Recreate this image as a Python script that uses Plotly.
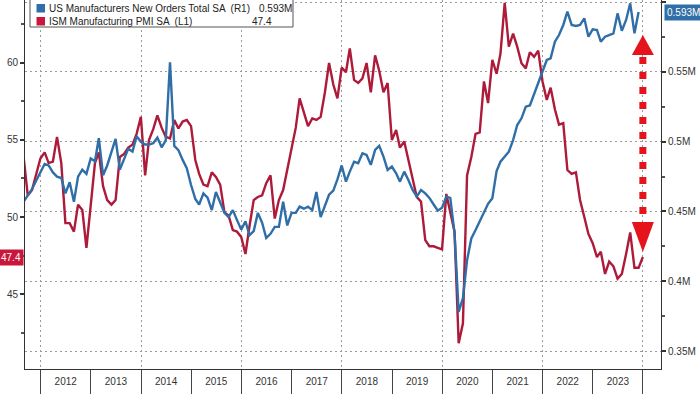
import pandas as pd
import plotly.graph_objects as go

# ---------------- data (monthly, month-end) ----------------
ism_start = "2011-08-31"
ism_pmi = [
    53.9, 51.4, 51.75, 52.8, 53.8,
    54.2, 53.5, 53.6, 55.2, 53.5, 49.6, 49.6, 49.05, 50.8, 50.45, 48.0, 50.6,
    53.5, 54.2, 52.0, 51.1, 50.8, 51.1, 53.9, 54.1, 54.5, 54.7, 55.4, 56.5,
    52.7, 55.0, 55.7, 56.6, 55.8, 55.2, 55.1, 56.3, 55.75, 56.2, 56.3, 55.9,
    53.7, 52.8, 52.1, 52.0, 52.9, 52.6, 52.1, 50.3, 50.1, 49.15, 49.05, 48.7,
    47.6, 49.4, 51.1, 51.3, 51.4, 52.2, 52.7, 49.9, 51.1, 51.75, 53.05, 54.35,
    55.8, 57.7, 56.7, 55.9, 56.4, 56.3, 56.5, 58.1, 60.0, 58.6, 57.7, 59.7,
    59.4, 60.95, 58.9, 58.7, 59.0, 60.0, 58.1, 60.5, 59.5, 58.1, 58.7, 55.0,
    55.65, 54.5, 54.9, 53.7, 52.6, 51.3, 51.0, 48.5, 48.1, 48.1, 48.0, 47.9,
    51.5, 50.3, 49.05, 41.8, 43.1, 52.7, 53.9, 55.4, 55.5, 58.8, 57.4, 60.2,
    59.3, 60.6, 63.9, 61.06, 61.9, 61.06, 59.98, 59.65, 60.7, 60.4, 60.8, 58.8,
    57.6, 58.4, 57.0, 56.0, 56.1, 53.05, 52.8, 52.9, 51.1, 50.0, 48.9, 48.3,
    47.4, 47.75, 46.3, 47.1, 46.8, 46.0, 46.3, 47.6, 49.0, 46.7, 46.7, 47.4,
]

orders_start = "2011-08-31"
new_orders_m = [
    0.457, 0.461, 0.466, 0.472, 0.478,
    0.484, 0.483, 0.478, 0.475, 0.474, 0.463, 0.471, 0.457, 0.475, 0.480, 0.477, 0.488,
    0.486, 0.5025, 0.476, 0.483, 0.493, 0.502, 0.480, 0.487, 0.495, 0.493, 0.504, 0.500,
    0.498, 0.498, 0.499, 0.503, 0.496, 0.501, 0.557, 0.497, 0.494, 0.487, 0.481, 0.469,
    0.459, 0.455, 0.463, 0.460, 0.451, 0.464, 0.457, 0.449, 0.446, 0.451, 0.444, 0.437,
    0.443, 0.433, 0.436, 0.449, 0.442, 0.431, 0.434, 0.439, 0.439, 0.457, 0.440, 0.449,
    0.449, 0.4535, 0.452, 0.4535, 0.451, 0.464, 0.446, 0.4535, 0.462, 0.465, 0.473, 0.483,
    0.4714, 0.4786, 0.4857, 0.4846, 0.4917, 0.4905, 0.4834, 0.4941, 0.497, 0.4893, 0.4798, 0.4822,
    0.4774, 0.4714, 0.4786, 0.4726, 0.4654, 0.4607, 0.4654, 0.463, 0.4597, 0.455, 0.4506, 0.4527,
    0.4606, 0.4597, 0.4346, 0.378, 0.388, 0.415, 0.4307, 0.4367, 0.443, 0.449, 0.4555, 0.4595,
    0.479, 0.4857, 0.4893, 0.4929, 0.5012, 0.512, 0.5168, 0.5251, 0.526, 0.534, 0.5425, 0.550,
    0.5586, 0.5598, 0.5717, 0.5765, 0.5837, 0.5932, 0.5837, 0.583, 0.5837, 0.5885, 0.5753, 0.5806,
    0.5801, 0.5717, 0.5753, 0.5765, 0.5777, 0.592, 0.5796, 0.5873, 0.5992, 0.5777, 0.593,
]

orders_name = "US Manufacturers New Orders Total SA  (R1)"
ism_name = "ISM Manufacturing PMI SA  (L1)"
orders_last_label = "0.593M"
ism_last_label = "47.4"

ism_dates = pd.date_range(ism_start, periods=len(ism_pmi), freq="ME")
orders_dates = pd.date_range(orders_start, periods=len(new_orders_m), freq="ME")

# ---------------- styling ----------------
BLUE = "#2f6ea6"
RED = "#ad1a3a"
ARROW_RED = "#e5131b"
W, H = 700, 394
L, R, T, B = 25, 39, 0, 25
PW, PH = W - L - R, H - T - B
AX_FONT = dict(family="Liberation Sans, Arial, sans-serif", size=10, color="#333")
LEG_FONT = dict(family="Liberation Sans, Arial, sans-serif", size=10, color="#222")


def xp(px):
    return (px - L) / PW


def yp(py):
    return 1 - (py - T) / PH


fig = go.Figure()
fig.add_trace(go.Scatter(x=ism_dates, y=ism_pmi, mode="lines", name=ism_name,
                         line=dict(color=RED, width=2.4), yaxis="y", showlegend=False))
fig.add_trace(go.Scatter(x=orders_dates, y=new_orders_m, mode="lines", name=orders_name,
                         line=dict(color=BLUE, width=2.4), yaxis="y2", showlegend=False))
# empty trace to register the year-separator / grid axis
fig.add_trace(go.Scatter(x=[], y=[], xaxis="x3", yaxis="y", showlegend=False, hoverinfo="skip"))

x_range = ["2011-09-10", "2024-05-11"]

fig.update_layout(
    width=W, height=H,
    margin=dict(l=L, r=R, t=T, b=B, autoexpand=False),
    paper_bgcolor="white", plot_bgcolor="white",
    showlegend=False,
    xaxis=dict(type="date", range=x_range, dtick="M12", tick0="2012-01-01",
               tickformat="%Y", ticklabelmode="period", ticks="",
               showgrid=False, showline=True, linecolor="#333", linewidth=1,
               tickfont=AX_FONT, ticklabelstandoff=3, zeroline=False),
    xaxis3=dict(type="date", range=x_range, overlaying="x", anchor="y", side="bottom",
                dtick="M24", tick0="2012-01-01", showticklabels=False,
                ticks="outside", ticklen=25, tickcolor="#444", tickwidth=1,
                showgrid=True, gridcolor="#9a9a9a", griddash="2px,3px", gridwidth=1,
                minor=dict(dtick="M12", tick0="2012-01-01", ticks="outside", ticklen=25,
                           tickcolor="#444", tickwidth=1, showgrid=False),
                showline=False, zeroline=False),
    yaxis=dict(range=[40.13, 64.09], tickvals=[45, 50, 55, 60], ticks="outside",
               ticklen=4, tickcolor="#333", tickwidth=1.5,
               minor=dict(tickvals=[42.5, 47.5, 52.5, 57.5, 62.5], ticks="outside",
                          ticklen=3, tickcolor="#555"),
               showgrid=False, showline=True, linecolor="#333", linewidth=1,
               tickfont=AX_FONT, zeroline=False),
    yaxis2=dict(range=[0.3371, 0.6016], overlaying="y", side="right", anchor="x",
                tick0=0.35, dtick=0.05, ticksuffix="M", ticks="outside", ticklen=4,
                tickcolor="#333", tickwidth=1.5,
                minor=dict(dtick=0.025, tick0=0.325, ticks="outside", ticklen=3, tickcolor="#555"),
                showgrid=True, gridcolor="#9a9a9a", griddash="2px,3px", gridwidth=1,
                showline=True, linecolor="#333", linewidth=1,
                tickfont=AX_FONT, zeroline=False),
)

shapes = []
# legend box
shapes.append(dict(type="rect", xref="paper", yref="paper", x0=xp(30), x1=xp(293),
                   y0=yp(27), y1=yp(-6), line=dict(color="#555", width=1),
                   fillcolor="white", layer="above"))
shapes.append(dict(type="rect", xref="paper", yref="paper", x0=xp(36.5), x1=xp(45),
                   y0=yp(12.5), y1=yp(4), line=dict(width=0), fillcolor=BLUE, layer="above"))
shapes.append(dict(type="rect", xref="paper", yref="paper", x0=xp(36.5), x1=xp(45),
                   y0=yp(25.5), y1=yp(17), line=dict(width=0), fillcolor="#c8173a", layer="above"))

# red double arrow annotation
arrow_x = ism_dates[-1]
shapes.append(dict(type="line", xref="x", yref="paper", x0=arrow_x, x1=arrow_x,
                   y0=yp(57), y1=yp(219), line=dict(color=ARROW_RED, width=7, dash="7px,8px"),
                   layer="above"))
shapes.append(dict(type="path", xref="x", xsizemode="pixel", xanchor=arrow_x,
                   yref="paper", ysizemode="pixel", yanchor=yp(55),
                   path="M-11,0 L11,0 L0,20 Z", fillcolor=ARROW_RED, line=dict(width=0),
                   layer="above"))
shapes.append(dict(type="path", xref="x", xsizemode="pixel", xanchor=arrow_x,
                   yref="paper", ysizemode="pixel", yanchor=yp(222),
                   path="M-11,0 L11,0 L0,-30 Z", fillcolor=ARROW_RED, line=dict(width=0),
                   layer="above"))
fig.update_layout(shapes=shapes)

ann = []
ann.append(dict(text=orders_name, x=xp(47), y=yp(8.5), xref="paper", yref="paper",
                xanchor="left", yanchor="middle", showarrow=False, font=LEG_FONT))
ann.append(dict(text=orders_last_label, x=xp(257), y=yp(8.5), xref="paper", yref="paper",
                xanchor="left", yanchor="middle", showarrow=False, font=LEG_FONT))
ann.append(dict(text=ism_name, x=xp(47), y=yp(21.5), xref="paper", yref="paper",
                xanchor="left", yanchor="middle", showarrow=False, font=LEG_FONT))
ann.append(dict(text=ism_last_label, x=xp(250), y=yp(21.5), xref="paper", yref="paper",
                xanchor="left", yanchor="middle", showarrow=False, font=LEG_FONT))
# last-value tags on the axes
ann.append(dict(text=orders_last_label, x=1, xref="paper", y=new_orders_m[-1], yref="y2",
                xanchor="left", yanchor="middle", xshift=3, showarrow=False,
                bgcolor=BLUE, borderpad=2,
                font=dict(family="Liberation Sans, Arial, sans-serif", size=10, color="white")))
ann.append(dict(text=ism_last_label, x=0, xref="paper", y=ism_pmi[-1], yref="y",
                xanchor="right", yanchor="middle", xshift=-1, showarrow=False,
                bgcolor="#c8173a", borderpad=2,
                font=dict(family="Liberation Sans, Arial, sans-serif", size=10, color="white")))
fig.update_layout(annotations=ann)

fig.write_html("out.html", config={"displayModeBar": False},
               post_script="document.body.style.margin='0';document.body.style.overflow='hidden';")
